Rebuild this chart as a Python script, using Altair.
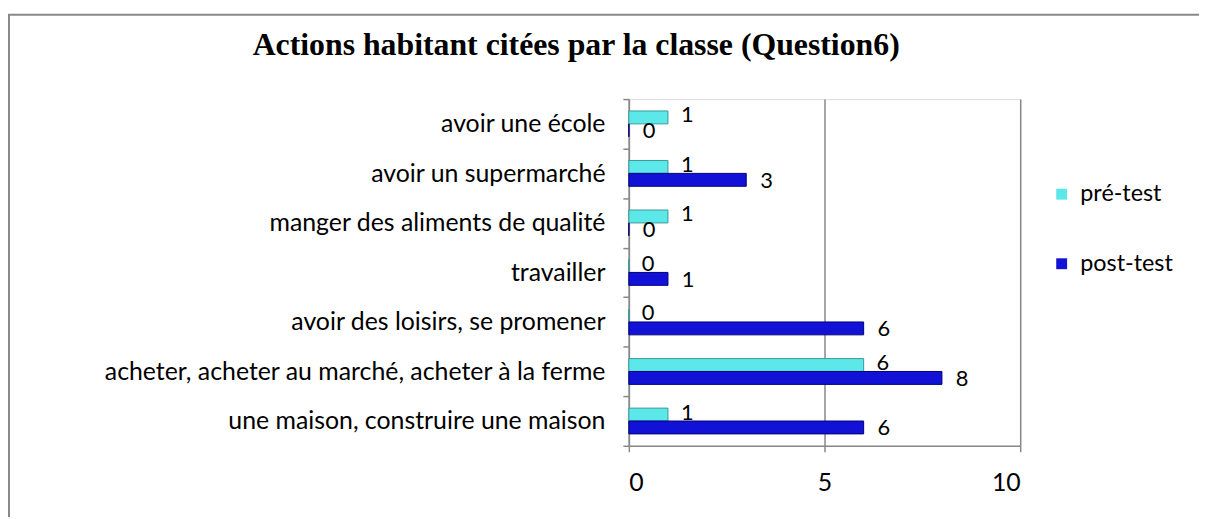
import altair as alt
import pandas as pd

categories = [
    "avoir une école",
    "avoir un supermarché",
    "manger des aliments de qualité",
    "travailler",
    "avoir des loisirs, se promener",
    "acheter, acheter au marché, acheter à la ferme",
    "une maison, construire une maison",
]
series = ["pré-test", "post-test"]
pre_values = [1, 1, 1, 0, 0, 6, 1]
post_values = [0, 3, 0, 1, 6, 8, 6]
colors = ["#5CE8E8", "#1212D6"]
strokes = ["#3A9A9A", "#00007A"]

rows = []
for c, v in zip(categories, pre_values):
    rows.append({"cat": c, "serie": series[0], "val": v})
for c, v in zip(categories, post_values):
    rows.append({"cat": c, "serie": series[1], "val": v})
df = pd.DataFrame(rows)

FONT = "Lato"

y_enc = alt.Y("cat:N", sort=categories, title=None,
              scale=alt.Scale(paddingInner=0, paddingOuter=0),
              axis=alt.Axis(tickBand="extent", labelFont=FONT, labelFontSize=25,
                            labelColor="#000", labelPadding=18, tickSize=6,
                            tickColor="#888", domainColor="#888", domainWidth=1.5,
                            tickWidth=1.5, grid=False, labelLimit=700))
yoff = alt.YOffset("serie:N", sort=series,
                   scale=alt.Scale(domain=series, paddingOuter=0.92, paddingInner=0))
x_enc = alt.X("val:Q", title=None,
              scale=alt.Scale(domain=[0, 10]),
              axis=alt.Axis(values=[0, 5, 10], labelFont=FONT, labelFontSize=25,
                            labelColor="#000", labelPadding=19, tickSize=6,
                            tickColor="#888", domainColor="#888", domainWidth=1.5,
                            tickWidth=1.5, grid=True, gridColor="#888", gridWidth=1.5))

color_enc = alt.Color("serie:N", sort=series,
                      scale=alt.Scale(domain=series, range=colors),
                      legend=alt.Legend(title=None, orient="none", legendX=424, legendY=84,
                                        symbolType="square", symbolSize=120,
                                        symbolStrokeWidth=0,
                                        labelFont=FONT, labelFontSize=23.5, labelColor="#000",
                                        rowPadding=45, labelOffset=7))

bars = alt.Chart(df).mark_bar(strokeWidth=1).encode(
    y=y_enc, yOffset=yoff, x=x_enc, color=color_enc,
    stroke=alt.Stroke("serie:N", sort=series,
                      scale=alt.Scale(domain=series, range=strokes), legend=None),
)

txt_pre = alt.Chart(df).transform_filter(alt.datum.serie == series[0]).mark_text(
    align="left", baseline="middle", dx=13, dy=-2, font=FONT, fontSize=22, color="#000"
).encode(y=alt.Y("cat:N", sort=categories), yOffset=yoff, x="val:Q", text="val:Q")

txt_post = alt.Chart(df).transform_filter(alt.datum.serie == series[1]).mark_text(
    align="left", baseline="middle", dx=14, dy=1, font=FONT, fontSize=22, color="#000"
).encode(y=alt.Y("cat:N", sort=categories), yOffset=yoff, x="val:Q", text="val:Q")

frame_df = pd.DataFrame({"k": [0]})
frame_left = alt.Chart(frame_df).mark_rule(color="#888", strokeWidth=2).encode(
    x=alt.value(-624), y=alt.value(-85), y2=alt.value(430))
frame_top = alt.Chart(frame_df).mark_rule(color="#888", strokeWidth=2).encode(
    x=alt.value(-625), x2=alt.value(600), y=alt.value(-85))

chart = alt.layer(frame_left, frame_top, bars, txt_pre, txt_post).properties(
    width=394, height=349,
    autosize=alt.AutoSizeParams(type="none"),
    padding={"left": 625, "top": 90, "right": 180, "bottom": 70},
    title=alt.TitleParams("Actions habitant citées par la classe (Question6)",
                          font="Liberation Serif", fontSize=32, fontWeight="bold",
                          color="#000", anchor="middle", dx=-250, offset=-49),
).configure_view(stroke=None).configure(background="white")

chart.save("out.html", embed_options={"renderer": "svg", "actions": False})
